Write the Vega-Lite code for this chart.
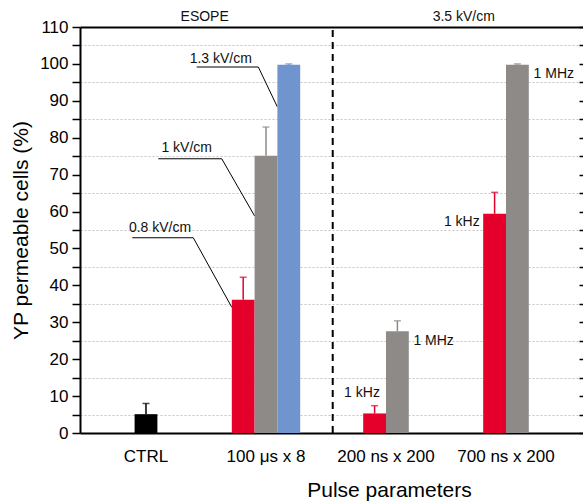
{
  "$schema": "https://vega.github.io/schema/vega-lite/v6.json",
  "width": 503,
  "height": 406,
  "autosize": {"type": "none"},
  "padding": {"left": 80, "top": 27, "right": 0, "bottom": 68},
  "config": {
    "font": "Liberation Sans",
    "view": {"stroke": null},
    "axis": {"labelFont": "Liberation Sans", "titleFont": "Liberation Sans"}
  },
  "datasets": {
    "bars": [
      {"group": "CTRL", "series": "CTRL", "slot": "C", "value": 5.1, "upper": 8.0},
      {"group": "100 μs x 8", "series": "0.8 kV/cm", "slot": "L2", "value": 36.1, "upper": 42.2},
      {"group": "100 μs x 8", "series": "1 kV/cm", "slot": "C", "value": 75.1, "upper": 82.9},
      {"group": "100 μs x 8", "series": "1.3 kV/cm", "slot": "R2", "value": 99.8, "upper": 100.0},
      {"group": "200 ns x 200", "series": "1 kHz", "slot": "L1", "value": 5.3, "upper": 7.4},
      {"group": "200 ns x 200", "series": "1 MHz", "slot": "R1", "value": 27.6, "upper": 30.4},
      {"group": "700 ns x 200", "series": "1 kHz", "slot": "L1", "value": 59.4, "upper": 65.2},
      {"group": "700 ns x 200", "series": "1 MHz", "slot": "R1", "value": 99.8, "upper": 100.0}
    ],
    "leaders": [
      {"ann": "a13", "ord": 1, "ax": 0.4225, "ay": 99.16},
      {"ann": "a13", "ord": 2, "ax": 0.936, "ay": 99.16},
      {"ann": "a13", "ord": 3, "ax": 1.094, "ay": 88.4},
      {"ann": "a10", "ord": 1, "ax": 0.1025, "ay": 74.3},
      {"ann": "a10", "ord": 2, "ax": 0.631, "ay": 74.3},
      {"ann": "a10", "ord": 3, "ax": 0.905, "ay": 58.8},
      {"ann": "a08", "ord": 1, "ax": -0.114, "ay": 52.9},
      {"ann": "a08", "ord": 2, "ax": 0.394, "ay": 52.9},
      {"ann": "a08", "ord": 3, "ax": 0.715, "ay": 34.06}
    ],
    "notes": [
      {"label": "1.3 kV/cm", "ax": 0.623, "ay": 101.25},
      {"label": "1 kV/cm", "ax": 0.339, "ay": 77.1},
      {"label": "0.8 kV/cm", "ax": 0.117, "ay": 55.6},
      {"label": "1 kHz", "ax": 1.8, "ay": 10.76},
      {"label": "1 MHz", "ax": 2.397, "ay": 25.0},
      {"label": "1 kHz", "ax": 2.632, "ay": 57.25},
      {"label": "1 MHz", "ax": 3.398, "ay": 97.27},
      {"label": "ESOPE", "ax": 0.489, "ay": 112.8},
      {"label": "3.5 kV/cm", "ax": 2.648, "ay": 112.8}
    ],
    "divider": [{"ax": 1.556, "y0": 0, "y1": 109.5}]
  },
  "layer": [
    {
      "data": {"name": "leaders"},
      "mark": {"type": "line", "color": "black", "strokeWidth": 1},
      "encoding": {
        "x": {"field": "ax", "type": "quantitative", "scale": {"domain": [-0.55, 3.6417], "nice": false, "zero": false}, "axis": null},
        "y": {"field": "ay", "type": "quantitative", "scale": {"domain": [0, 110], "nice": false}, "axis": null},
        "detail": {"field": "ann", "type": "nominal"},
        "order": {"field": "ord", "type": "quantitative"}
      }
    },
    {
      "data": {"name": "notes"},
      "mark": {"type": "text", "fontSize": 14, "color": "#111111", "align": "center", "baseline": "middle"},
      "encoding": {
        "x": {"field": "ax", "type": "quantitative", "scale": {"domain": [-0.55, 3.6417], "nice": false, "zero": false}, "axis": null},
        "y": {"field": "ay", "type": "quantitative", "scale": {"domain": [0, 110], "nice": false}, "axis": null},
        "text": {"field": "label", "type": "nominal"}
      }
    },
    {
      "data": {"name": "divider"},
      "mark": {"type": "rule", "color": "black", "strokeWidth": 2, "strokeDash": [7, 5]},
      "encoding": {
        "x": {"field": "ax", "type": "quantitative", "scale": {"domain": [-0.55, 3.6417], "nice": false, "zero": false},
              "axis": {"orient": "top", "labels": false, "ticks": false, "grid": false, "title": null, "domain": true, "domainColor": "black", "domainWidth": 2}},
        "y": {"field": "y0", "type": "quantitative", "scale": {"domain": [0, 110], "nice": false},
              "axis": {"orient": "right", "values": [0,5,10,15,20,25,30,35,40,45,50,55,60,65,70,75,80,85,90,95,100,105,110], "labels": false, "domain": false, "grid": false, "title": null, "tickSize": -4, "tickColor": "black", "tickWidth": 1.5}},
        "y2": {"field": "y1"}
      }
    },
    {
      "data": {"name": "bars"},
      "mark": {"type": "bar", "width": 22.8},
      "encoding": {
        "x": {"field": "group", "type": "nominal", "sort": ["CTRL", "100 μs x 8", "200 ns x 200", "700 ns x 200"],
              "scale": {"paddingInner": 0.525, "paddingOuter": 0.3583, "align": 0.436},
              "axis": {"orient": "bottom", "title": "Pulse parameters", "ticks": false, "grid": false, "labelAngle": 0, "labelFontSize": 17, "labelColor": "black", "labelPadding": 28, "labelBaseline": "alphabetic", "domainColor": "black", "domainWidth": 2, "titleFontSize": 21, "titleFontWeight": "normal", "titleColor": "black", "titleX": 309, "titleY": 63, "titleBaseline": "alphabetic", "titleAlign": "center"}},
        "xOffset": {"field": "slot", "type": "nominal", "sort": ["L2", "L1", "C", "R1", "R2"],
                    "scale": {"domain": ["L2", "L1", "C", "R1", "R2"], "paddingInner": 0, "paddingOuter": 0}},
        "y": {"field": "value", "type": "quantitative", "scale": {"domain": [0, 110], "nice": false},
              "axis": {"orient": "left", "values": [0,5,10,15,20,25,30,35,40,45,50,55,60,65,70,75,80,85,90,95,100,105,110],
                       "labelExpr": "datum.value % 10 === 0 ? datum.label : ''", "labelOverlap": false, "labelFontSize": 17, "labelColor": "black", "labelPadding": 4,
                       "tickSize": 8, "tickColor": "black", "tickWidth": 1.5, "domainColor": "black", "domainWidth": 2,
                       "grid": true, "gridColor": "#c4c4c4", "gridDash": [2, 2], "gridWidth": 1,
                       "gridOpacity": {"condition": {"test": "datum.value % 10 !== 0", "value": 1}, "value": 0},
                       "title": "YP permeable cells (%)", "titleFontSize": 21, "titleFontWeight": "normal", "titleColor": "black",
                       "titleX": -53, "titleY": 203, "titleBaseline": "alphabetic", "titleAlign": "center", "titleAngle": 270}},
        "color": {"field": "series", "type": "nominal", "legend": null,
                  "scale": {"domain": ["CTRL", "0.8 kV/cm", "1 kV/cm", "1.3 kV/cm", "1 kHz", "1 MHz"],
                            "range": ["#000000", "#E4002B", "#8E8A87", "#7094CD", "#E4002B", "#8E8A87"]}}
      }
    },
    {
      "data": {"name": "bars"},
      "mark": {"type": "rule", "strokeWidth": 1.5},
      "encoding": {
        "x": {"field": "group", "type": "nominal", "sort": ["CTRL", "100 μs x 8", "200 ns x 200", "700 ns x 200"],
              "scale": {"paddingInner": 0.525, "paddingOuter": 0.3583, "align": 0.436}, "axis": null},
        "xOffset": {"field": "slot", "type": "nominal", "sort": ["L2", "L1", "C", "R1", "R2"],
                    "scale": {"domain": ["L2", "L1", "C", "R1", "R2"], "paddingInner": 0, "paddingOuter": 0}},
        "y": {"field": "value", "type": "quantitative", "scale": {"domain": [0, 110], "nice": false}, "axis": null},
        "y2": {"field": "upper"},
        "color": {"field": "series", "type": "nominal", "legend": null}
      }
    },
    {
      "data": {"name": "bars"},
      "mark": {"type": "tick", "thickness": 1.5, "size": 7},
      "encoding": {
        "x": {"field": "group", "type": "nominal", "sort": ["CTRL", "100 μs x 8", "200 ns x 200", "700 ns x 200"],
              "scale": {"paddingInner": 0.525, "paddingOuter": 0.3583, "align": 0.436}, "axis": null},
        "xOffset": {"field": "slot", "type": "nominal", "sort": ["L2", "L1", "C", "R1", "R2"],
                    "scale": {"domain": ["L2", "L1", "C", "R1", "R2"], "paddingInner": 0, "paddingOuter": 0}},
        "y": {"field": "upper", "type": "quantitative", "scale": {"domain": [0, 110], "nice": false}, "axis": null},
        "color": {"field": "series", "type": "nominal", "legend": null}
      }
    }
  ],
  "resolve": {"scale": {"x": "independent"}, "axis": {"x": "independent", "y": "independent"}}
}
